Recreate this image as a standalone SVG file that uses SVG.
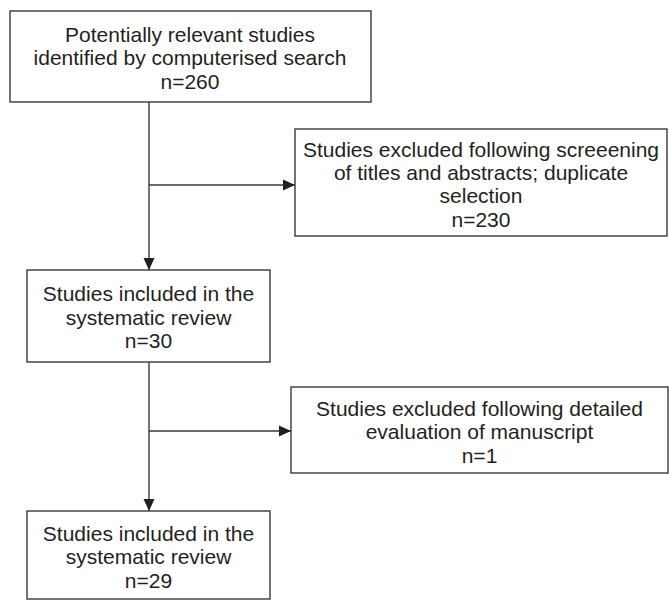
<svg xmlns="http://www.w3.org/2000/svg" width="669" height="600" viewBox="0 0 669 600">
<style>
.box{fill:#fff;stroke:#3a3a3a;stroke-width:1.4}
.t{font-family:"Liberation Sans",Arial,sans-serif;font-size:21px;fill:#231f20;text-anchor:middle}
.c{stroke:#3a3a3a;stroke-width:1.4;fill:none}
</style>
<defs>
<marker id="ah" viewBox="0 0 12 12" refX="12" refY="6" markerWidth="12" markerHeight="12" markerUnits="userSpaceOnUse" orient="auto">
<path d="M0,0.5 L12,6 L0,11.5 Z" fill="#231f20"/>
</marker>
</defs>
<rect width="669" height="600" fill="#fff"/>
<g id="connectors">
<line class="c" x1="149" y1="102" x2="149" y2="270" marker-end="url(#ah)"/>
<line class="c" x1="149" y1="185" x2="295" y2="185" marker-end="url(#ah)"/>
<line class="c" x1="149" y1="362" x2="149" y2="511" marker-end="url(#ah)"/>
<line class="c" x1="149" y1="431" x2="291" y2="431" marker-end="url(#ah)"/>
</g>
<g id="n1">
<rect class="box" x="10" y="11" width="361" height="91"/>
<text class="t" x="190" y="42">Potentially relevant studies</text>
<text class="t" x="190" y="65">identified by computerised search</text>
<text class="t" x="190" y="89">n=260</text>
</g>
<g id="n2">
<rect class="box" x="295" y="129" width="372" height="107"/>
<text class="t" x="481" y="157">Studies excluded following screeening</text>
<text class="t" x="481" y="180">of titles and abstracts; duplicate</text>
<text class="t" x="481" y="203">selection</text>
<text class="t" x="481" y="227">n=230</text>
</g>
<g id="n3">
<rect class="box" x="27" y="270" width="243" height="92"/>
<text class="t" x="148.5" y="301">Studies included in the</text>
<text class="t" x="148.5" y="324.5">systematic review</text>
<text class="t" x="148.5" y="348">n=30</text>
</g>
<g id="n4">
<rect class="box" x="291" y="387" width="377" height="86"/>
<text class="t" x="479.5" y="415.5">Studies excluded following detailed</text>
<text class="t" x="479.5" y="439">evaluation of manuscript</text>
<text class="t" x="479.5" y="463">n=1</text>
</g>
<g id="n5">
<rect class="box" x="27" y="511" width="243" height="88"/>
<text class="t" x="148.5" y="541">Studies included in the</text>
<text class="t" x="148.5" y="564">systematic review</text>
<text class="t" x="148.5" y="588">n=29</text>
</g>
</svg>
